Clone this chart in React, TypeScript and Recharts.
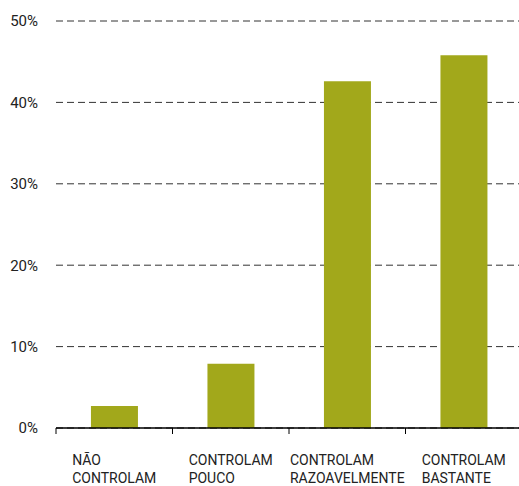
import React from "react";
import { BarChart, Bar, XAxis, YAxis, CartesianGrid } from "recharts";

const categories = [
  ["NÃO", "CONTROLAM"],
  ["CONTROLAM", "POUCO"],
  ["CONTROLAM", "RAZOAVELMENTE"],
  ["CONTROLAM", "BASTANTE"],
];
const values = [2.7, 7.9, 42.6, 45.8];
const yTicks = [0, 10, 20, 30, 40, 50];

const data = categories.map((lines, i) => ({
  name: lines.join(" "),
  value: values[i],
}));

const FONT = "Roboto, sans-serif";
const BAND = 116.5;

let ctx: CanvasRenderingContext2D | null = null;
const measure = (s: string) => {
  if (!ctx) ctx = document.createElement("canvas").getContext("2d");
  if (!ctx) return s.length * 9;
  ctx.font = "14px Roboto";
  return ctx.measureText(s).width;
};

const XTick = (props: any) => {
  const { x, y, index } = props;
  const lines = categories[index] || [];
  const w = Math.max(...lines.map(measure));
  const left = x - w / 2;
  return (
    <g>
      <line x1={x - BAND / 2} x2={x - BAND / 2} y1={y} y2={y + 6} stroke="#000" />
      {lines.map((l, i) => (
        <text
          key={i}
          x={left}
          y={y + 37 + i * 18}
          fontSize={14}
          fontFamily={FONT}
          fill="#222"
          textAnchor="start"
        >
          {l}
        </text>
      ))}
    </g>
  );
};

export default function App() {
  return (
    <div
      style={{
        position: "absolute",
        left: 0,
        top: 0,
        width: 519,
        height: 486,
        overflow: "hidden",
        background: "#fff",
      }}
    >
      <BarChart
        width={522}
        height={486}
        data={data}
        margin={{ top: 21, right: 0, bottom: 0, left: 0 }}
        barCategoryGap="30%"
      >
        <CartesianGrid vertical={false} stroke="#333" strokeDasharray="7 4" />
        <YAxis
          width={56}
          domain={[0, 50]}
          ticks={yTicks}
          axisLine={false}
          tickLine={false}
          tickSize={0}
          tickMargin={18}
          tickFormatter={(v) => `${v}%`}
          tick={{ fontSize: 15, fontFamily: FONT, fill: "#222" }}
        />
        <XAxis
          dataKey="name"
          height={58}
          axisLine={{ stroke: "#000", strokeWidth: 1.5 }}
          tickLine={false}
          tickSize={0}
          tickMargin={0}
          interval={0}
          tick={<XTick />}
        />
        <Bar dataKey="value" fill="#a2a81b" isAnimationActive={false} />
      </BarChart>
    </div>
  );
}
